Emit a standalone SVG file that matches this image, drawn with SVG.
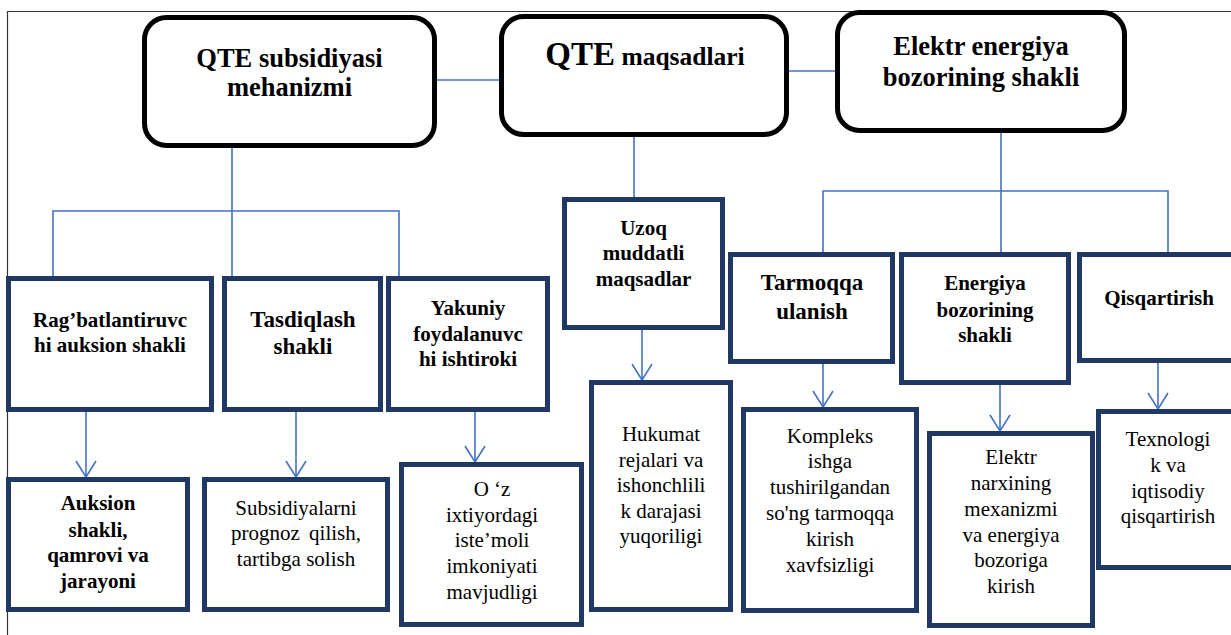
<svg xmlns="http://www.w3.org/2000/svg" width="1231" height="635" viewBox="0 0 1231 635">
<style>
.frame{stroke:#333;stroke-width:1.2;fill:none}
.top{fill:#fff;stroke:#000;stroke-width:5}
.box{fill:#fff;stroke:#1F3864;stroke-width:5}
.con{stroke:#4472C4;stroke-width:1.6;fill:none}
.arr{stroke:#4472C4;stroke-width:1.6;fill:none;marker-end:url(#v)}
text{font-family:'Liberation Serif','DejaVu Serif',serif;fill:#000;text-anchor:middle}
.b{font-weight:bold}
.t26{font-size:26.5px}
.t21{font-size:21px}
.t23{font-size:23px}
</style>
<defs>
<marker id="v" markerUnits="userSpaceOnUse" viewBox="-18 -12 20 24" markerWidth="20" markerHeight="24" refX="0" refY="0" orient="auto">
<path d="M-16,-10 L0,0 L-16,10" fill="none" stroke="#4472C4" stroke-width="1.6"/>
</marker>
</defs>
<rect width="1231" height="635" fill="#fff"/>
<path class="frame" d="M7.5,635 V11.5 H1231"/>

<g id="connectors">
<line class="con" x1="437" y1="80" x2="499" y2="80"/>
<line class="con" x1="789" y1="71" x2="835" y2="71"/>
<line class="con" x1="232" y1="148" x2="232" y2="276"/>
<polyline class="con" points="53,276 53,211 399,211 399,276"/>
<line class="con" x1="634" y1="137" x2="634" y2="197"/>
<line class="con" x1="1001" y1="133" x2="1001" y2="252"/>
<polyline class="con" points="823,252 823,191 1168,191 1168,252"/>
<line class="arr" x1="86" y1="412" x2="86" y2="477"/>
<line class="arr" x1="296" y1="412" x2="296" y2="477"/>
<line class="arr" x1="475" y1="412" x2="475" y2="462"/>
<line class="arr" x1="642" y1="330" x2="642" y2="380"/>
<line class="arr" x1="823" y1="364" x2="823" y2="407"/>
<line class="arr" x1="1000" y1="385" x2="1000" y2="431"/>
<line class="arr" x1="1158" y1="363" x2="1158" y2="409"/>
</g>

<g id="qte-subsidiya">
<rect class="top" x="144.5" y="17.5" width="290" height="128" rx="22"/>
<text class="b t26" x="289.5"><tspan x="289.5" y="67">QTE subsidiyasi</tspan><tspan x="289.5" y="96">mehanizmi</tspan></text>
</g>
<g id="qte-maqsadlari">
<rect class="top" x="501.5" y="16.5" width="285" height="118" rx="22"/>
<text class="b" x="645" y="65"><tspan font-size="33">QTE</tspan><tspan font-size="25.5"> maqsadlari</tspan></text>
</g>
<g id="elektr-bozor">
<rect class="top" x="837.5" y="12.5" width="287" height="118" rx="22"/>
<text class="b t26" x="981"><tspan x="981" y="55">Elektr energiya</tspan><tspan x="981" y="86">bozorining shakli</tspan></text>
</g>

<g id="ragbat">
<rect class="box" x="8.5" y="278.5" width="203" height="131"/>
<text class="b t21"><tspan x="110" y="327">Rag’batlantiruvc</tspan><tspan x="110" y="352">hi auksion shakli</tspan></text>
</g>
<g id="tasdiqlash">
<rect class="box" x="224.5" y="278.5" width="156" height="131"/>
<text class="b t23"><tspan x="303" y="327">Tasdiqlash</tspan><tspan x="303" y="354">shakli</tspan></text>
</g>
<g id="yakuniy">
<rect class="box" x="388.5" y="278.5" width="159" height="131"/>
<text class="b t21"><tspan x="468" y="315">Yakuniy</tspan><tspan x="468" y="341">foydalanuvc</tspan><tspan x="468" y="366">hi ishtiroki</tspan></text>
</g>
<g id="uzoq">
<rect class="box" x="564.5" y="199.5" width="158" height="128"/>
<text class="b t21"><tspan x="643.5" y="235">Uzoq</tspan><tspan x="643.5" y="260">muddatli</tspan><tspan x="643.5" y="286">maqsadlar</tspan></text>
</g>
<g id="tarmoqqa">
<rect class="box" x="730.5" y="254.5" width="162" height="107"/>
<text class="b t23"><tspan x="812" y="290">Tarmoqqa</tspan><tspan x="812" y="319">ulanish</tspan></text>
</g>
<g id="energiya">
<rect class="box" x="901.5" y="254.5" width="167" height="128"/>
<text class="b t21"><tspan x="985" y="290">Energiya</tspan><tspan x="985" y="317">bozorining</tspan><tspan x="985" y="342">shakli</tspan></text>
</g>
<g id="qisqartirish">
<rect class="box" x="1079.5" y="254.5" width="170" height="106"/>
<text class="b t21" x="1159" y="305">Qisqartirish</text>
</g>

<g id="auksion">
<rect class="box" x="8.5" y="479.5" width="179" height="130"/>
<text class="b t21"><tspan x="98" y="510">Auksion</tspan><tspan x="98" y="537">shakli,</tspan><tspan x="98" y="562">qamrovi va</tspan><tspan x="98" y="588">jarayoni</tspan></text>
</g>
<g id="subsidiyalarni">
<rect class="box" x="204.5" y="479.5" width="183" height="130"/>
<text class="t21"><tspan x="296" y="515">Subsidiyalarni</tspan><tspan x="296" y="540" word-spacing="4">prognoz qilish,</tspan><tspan x="296" y="566">tartibga solish</tspan></text>
</g>
<g id="oz-ixtiyor">
<rect class="box" x="401.5" y="464.5" width="180" height="160"/>
<text class="t21"><tspan x="492" y="496">O ‘z</tspan><tspan x="492" y="522">ixtiyordagi</tspan><tspan x="492" y="547">iste’moli</tspan><tspan x="492" y="573">imkoniyati</tspan><tspan x="492" y="599">mavjudligi</tspan></text>
</g>
<g id="hukumat">
<rect class="box" x="591.5" y="382.5" width="139" height="227"/>
<text class="t21"><tspan x="661" y="441">Hukumat</tspan><tspan x="661" y="467">rejalari va</tspan><tspan x="661" y="492">ishonchlili</tspan><tspan x="661" y="518">k darajasi</tspan><tspan x="661" y="543">yuqoriligi</tspan></text>
</g>
<g id="kompleks">
<rect class="box" x="743.5" y="409.5" width="173" height="201"/>
<text class="t21"><tspan x="830" y="443">Kompleks</tspan><tspan x="830" y="468">ishga</tspan><tspan x="830" y="494">tushirilgandan</tspan><tspan x="830" y="520">so'ng tarmoqqa</tspan><tspan x="830" y="546">kirish</tspan><tspan x="830" y="572">xavfsizligi</tspan></text>
</g>
<g id="elektr-narx">
<rect class="box" x="929.5" y="433.5" width="163" height="192"/>
<text class="t21"><tspan x="1011" y="464">Elektr</tspan><tspan x="1011" y="490">narxining</tspan><tspan x="1011" y="516">mexanizmi</tspan><tspan x="1011" y="542">va energiya</tspan><tspan x="1011" y="567">bozoriga</tspan><tspan x="1011" y="593">kirish</tspan></text>
</g>
<g id="texnologik">
<rect class="box" x="1098.5" y="411.5" width="150" height="156"/>
<text class="t21"><tspan x="1168" y="446">Texnologi</tspan><tspan x="1168" y="472">k va</tspan><tspan x="1168" y="498">iqtisodiy</tspan><tspan x="1168" y="523">qisqartirish</tspan></text>
</g>
</svg>
